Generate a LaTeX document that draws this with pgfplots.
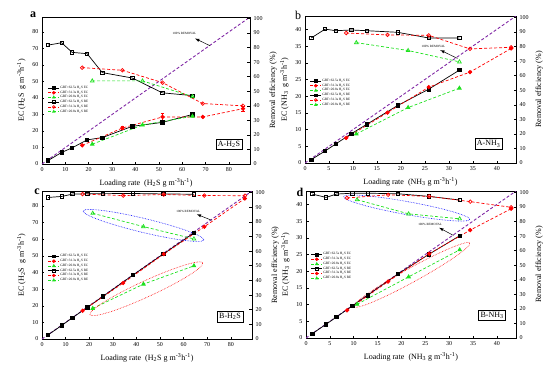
\documentclass[border=0pt]{standalone}
\usepackage{fontspec}
\setmainfont{Liberation Serif}
\usepackage{pgfplots}
\pgfplotsset{compat=1.18}
\definecolor{pur}{RGB}{128,40,165}
\definecolor{gr}{RGB}{30,225,30}
\tikzset{
  ann/.style={font=\fontsize{3.2}{3.2}\selectfont},
  boxlab/.style={draw, fill=white, line width=0.5pt, font=\fontsize{8}{9}\selectfont, inner sep=2pt}
}
\pgfplotsset{
  base/.style={scale only axis, xmin=0, ymin=0, tick align=inside,
    /pgf/number format/assume math mode=true,
    tick label style={font=\fontsize{6}{6}\selectfont},
    label style={font=\fontsize{8}{9}\selectfont},
    axis line style={line width=0.6pt}, major tick length=2.5pt,
    every tick/.style={black, line width=0.5pt}},
  ecK/.style={black, solid, line width=0.7pt, mark=square*, mark size=1.7pt},
  ecR/.style={red, densely dashed, line width=0.7pt, mark=*, mark size=1.8pt, mark options={solid}},
  ecG/.style={gr, densely dashed, line width=0.7pt, mark=triangle*, mark size=2.1pt, mark options={solid}},
  reK/.style={black, solid, line width=0.7pt, mark=square, mark size=1.7pt, mark options={fill=white}},
  reR/.style={red, densely dashed, line width=0.7pt, mark=o, mark size=1.8pt, mark options={solid,fill=white}},
  reG/.style={gr, densely dashed, line width=0.7pt, mark=triangle, mark size=2.1pt, mark options={solid,fill=white}},
  diag/.style={pur, densely dashed, line width=0.9pt},
  leg/.style={legend style={at={(#1)}, anchor=north west, draw=none, fill=none,
     font=\fontsize{3.4}{3.8}\selectfont, row sep=-0.4pt, inner sep=0.5pt,
     nodes={inner sep=0.7pt}},
     legend cell align=left,
     legend image code/.code={\draw[mark repeat=2,mark phase=2,##1,mark size=1.4pt] plot coordinates {(0pt,0pt)(5.5pt,0pt)(11pt,0pt)};}}
}
\newcommand{\legitems}{%
  \addlegendimage{ecK}\addlegendimage{ecR}\addlegendimage{ecG}}
\newcommand{\legtext}{%
  \legend{GRT=62.5s H\textsubscript{2}S EC, GRT=31.3s H\textsubscript{2}S EC, GRT=20.8s H\textsubscript{2}S EC,
  GRT=62.5s H\textsubscript{2}S RE, GRT=31.3s H\textsubscript{2}S RE, GRT=20.8s H\textsubscript{2}S RE}}
\begin{document}
\begin{tikzpicture}
\useasboundingbox (0,0) rectangle (554pt,-373pt);
% ================= panel a =================
\begin{axis}[base, at={(42pt,-164pt)}, anchor=south west, width=208pt, height=147pt,
  xmax=89, ymax=89, xtick={0,10,...,80}, ytick={0,10,...,80}, xtick pos=bottom, ytick pos=left,
  xlabel={Loading rate\ \ (H\textsubscript{2}S g m\textsuperscript{-3}h\textsuperscript{-1})},
  ylabel={EC (H\textsubscript{2}S\ \ g m\textsuperscript{-3}h\textsuperscript{-1})}]
\addplot[diag] coordinates {(0,0)(89,89)};
\addplot[ecK] coordinates {(2.6,2.1)(8.4,7)(12.9,9.8)(19.3,14.6)(25.8,16)(38.6,22.8)(51.5,25.2)(64.4,30)};
\addplot[ecR, error bars/.cd, y dir=both, y explicit] coordinates {(17.2,11.3)(34.4,21.8)+-(0,0.8)(51.6,28.5)+-(0,2.5)(68.8,28.5)(86,33.5)+-(0,1.5)};
\addplot[ecG] coordinates {(21.5,12)(43,23.6)(64.4,28.9)};
\draw[-latex, line width=0.5pt] (axis cs:71.9,71.6) -- (axis cs:65.5,76);
\node[ann] at (axis cs:61,79) {100\% REMOVAL};
\node[boxlab] at (axis cs:80,12) {A-H\textsubscript{2}S};
\end{axis}
\begin{axis}[base, at={(42pt,-164pt)}, anchor=south west, width=208pt, height=147pt,
  xmax=89, ymax=101, axis x line=none, axis y line*=right, ytick={0,10,...,100},
  ylabel={Removal efficiency (\%)}, leg={0.025,0.54}]
\legitems
\addplot[reK] coordinates {(2.6,81.7)(8.4,83.3)(12.9,76.7)(19.3,75.8)(25.8,62.8)(38.6,59.1)(51.5,48.9)(64.4,47.0)};
\addplot[reR] coordinates {(17.2,66.2)(34.4,64.4)(51.6,55.9)(68.8,41.5)(86,40)};
\addplot[reG] coordinates {(21.5,57.1)(43,57.1)(64.4,46.3)};
\legtext
\end{axis}
% ================= panel b =================
\begin{axis}[base, at={(305pt,-163pt)}, anchor=south west, width=211pt, height=147pt,
  xmax=44, ymax=44, xtick={0,5,...,40}, ytick={0,5,...,40}, xtick pos=bottom, ytick pos=left,
  xlabel={Loading rate\ \ (NH\textsubscript{3} g m\textsuperscript{-3}h\textsuperscript{-1})},
  ylabel={EC (NH\textsubscript{3}\ \ g m\textsuperscript{-3}h\textsuperscript{-1})}]
\addplot[diag] coordinates {(0,0)(44,44)};
\addplot[ecK] coordinates {(1.3,1.0)(4.2,3.6)(6.4,5.7)(9.7,8.8)(12.9,11.6)(19.3,17.2)(25.8,22.1)(32.2,27.8)};
\addplot[ecR] coordinates {(8.6,7.5)(17.2,15.1)(25.8,22.7)(34.4,27.2)(43,34.3)};
\addplot[ecG] coordinates {(10.7,8.7)(21.5,16.6)(32.2,22.4)};
\draw[-latex, line width=0.5pt] (axis cs:31.8,31.3) -- (axis cs:28.2,33.8);
\node[ann] at (axis cs:26.8,34.9) {100\% REMOVAL};
\node[boxlab] at (axis cs:38.3,5.7) {A-NH\textsubscript{3}};
\end{axis}
\begin{axis}[base, at={(305pt,-163pt)}, anchor=south west, width=211pt, height=147pt,
  xmax=44, ymax=101, axis x line=none, axis y line*=right, ytick={0,10,...,100},
  ylabel={Removal efficiency (\%)}, leg={0.02,0.58}]
\legitems
\addplot[reK] coordinates {(1.3,85.9)(4.2,92)(6.4,90.9)(9.7,91.4)(12.9,90.9)(19.3,89.8)(25.8,85.9)(32.2,85.9)};
\addplot[reR] coordinates {(8.6,89.3)(17.2,88)(25.8,87.7)(34.4,78.4)(43,79.5)};
\addplot[reG] coordinates {(10.7,82.7)(21.5,77.3)(32.2,69.5)};
\legtext
\end{axis}
% ================= panel c =================
\begin{axis}[base, at={(42pt,-339pt)}, anchor=south west, width=210pt, height=148pt,
  xmax=89, ymax=89, xtick={0,10,...,80}, ytick={0,10,...,80}, xtick pos=bottom, ytick pos=left,
  xlabel={Loading rate\ \ (H\textsubscript{2}S g m\textsuperscript{-3}h\textsuperscript{-1})},
  ylabel={EC (H\textsubscript{2}S\ \ g m\textsuperscript{-3}h\textsuperscript{-1})}]
\addplot[diag] coordinates {(0,0)(89,89)};
\addplot[ecK] coordinates {(2.6,2.5)(8.4,8.2)(12.9,12.8)(19.3,19.1)(25.8,25.6)(38.6,38.5)(51.5,51.2)(64.4,63.8)};
\addplot[ecR] coordinates {(17.2,17)(34.4,33.7)(51.6,51)(68.8,67.5)(86,84.5)};
\addplot[ecG] coordinates {(21.5,18.4)(43,33)(64.4,44)};
\draw[blue, densely dotted, line width=0.6pt, rotate around={-13.5:(axis cs:43,68.3)}] (axis cs:43,68.3) ellipse (62pt and 7pt);
\draw[red, densely dotted, line width=0.6pt, rotate around={24.7:(axis cs:44.2,30.2)}] (axis cs:44.2,30.2) ellipse (62pt and 8pt);
\draw[-latex, line width=0.5pt] (axis cs:71.9,71.4) -- (axis cs:65.6,75);
\node[ann] at (axis cs:62,77) {100\% REMOVAL};
\node[boxlab] at (axis cs:79.7,13.4) {B-H\textsubscript{2}S};
\end{axis}
\begin{axis}[base, at={(42pt,-339pt)}, anchor=south west, width=210pt, height=148pt,
  xmax=89, ymax=101, axis x line=none, axis y line*=right, ytick={0,10,...,100},
  ylabel={Removal efficiency (\%)}, leg={0.025,0.58}]
\legitems
\addplot[reK] coordinates {(2.6,96.6)(8.4,97.3)(12.9,98.9)(19.3,99.1)(25.8,99.2)(38.6,99.3)(51.5,99.0)(64.4,98.8)};
\addplot[reR] coordinates {(17.2,98.9)(34.4,97.9)(51.6,98.6)(68.8,97.9)(86,97.8)};
\addplot[reG] coordinates {(21.5,85.8)(43,76.7)(64.4,68.3)};
\legtext
\end{axis}
% ================= panel d =================
\begin{axis}[base, at={(306pt,-338pt)}, anchor=south west, width=210pt, height=147pt,
  xmax=44, ymax=44, xtick={0,5,...,40}, ytick={0,5,...,40}, xtick pos=bottom, ytick pos=left,
  xlabel={Loading rate\ \ (NH\textsubscript{3} g m\textsuperscript{-3}h\textsuperscript{-1})},
  ylabel={EC (NH\textsubscript{3}\ \ g m\textsuperscript{-3}h\textsuperscript{-1})}]
\addplot[diag] coordinates {(0,0)(44,44)};
\addplot[ecK] coordinates {(1.3,1.3)(4.2,4.1)(6.4,6.3)(9.7,9.6)(12.9,12.8)(19.3,19.2)(25.8,25.1)(32.2,30.6)};
\addplot[ecR] coordinates {(8.6,8.3)(17.2,16.9)(25.8,25.2)(34.4,32.3)(43,38.7)};
\addplot[ecG] coordinates {(10.7,10.1)(21.5,18.3)(32.2,26.4)};
\draw[blue, densely dotted, line width=0.6pt, rotate around={-10.2:(axis cs:21.1,38.9)}] (axis cs:21.1,38.9) ellipse (64pt and 6.5pt);
\draw[red, densely dotted, line width=0.6pt, rotate around={28.8:(axis cs:22.2,18.9)}] (axis cs:22.2,18.9) ellipse (66pt and 7pt);
\draw[-latex, line width=0.5pt] (axis cs:30.9,30.7) -- (axis cs:27.9,33);
\node[ann] at (axis cs:26,34.1) {100\% REMOVAL};
\node[boxlab] at (axis cs:39,6.8) {B-NH\textsubscript{3}};
\end{axis}
\begin{axis}[base, at={(306pt,-338pt)}, anchor=south west, width=210pt, height=147pt,
  xmax=44, ymax=101, axis x line=none, axis y line*=right, ytick={0,10,...,100},
  ylabel={Removal efficiency (\%)}, leg={0.02,0.59}]
\legitems
\addplot[reK] coordinates {(1.3,98.9)(4.2,96.6)(6.4,98.9)(9.7,99.5)(12.9,99.5)(19.3,99.1)(25.8,97.3)(32.2,94.8)};
\addplot[reR] coordinates {(8.6,96.2)(17.2,98.4)(25.8,97.3)(34.4,93.7)(43,89.8)};
\addplot[reG] coordinates {(10.7,95)(21.5,85.3)(32.2,81.9)};
\legtext
\end{axis}
% panel letters
\node[font=\bfseries\fontsize{12}{12}\selectfont] at (33pt,-15pt) {a};
\node[font=\fontsize{12}{12}\selectfont] at (298pt,-15pt) {b};
\node[font=\bfseries\fontsize{12}{12}\selectfont] at (37pt,-192pt) {c};
\node[font=\bfseries\fontsize{12}{12}\selectfont] at (300pt,-192pt) {d};
\end{tikzpicture}
\end{document}
